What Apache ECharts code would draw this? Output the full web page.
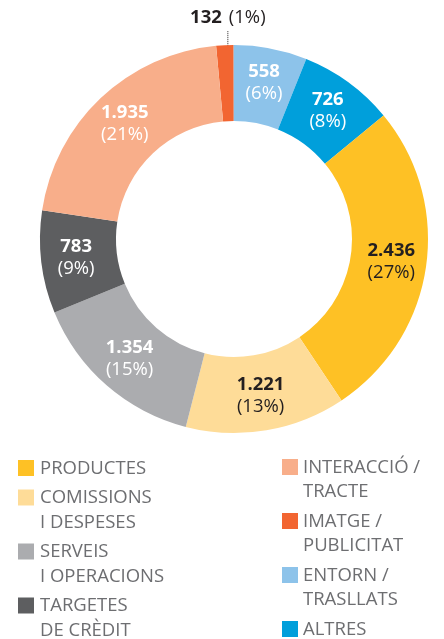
<!DOCTYPE html>
<html>
<head>
<meta charset="utf-8">
<script src="https://cdn.jsdelivr.net/npm/echarts@6/dist/echarts.min.js"></script>
<style>
  html, body { margin: 0; padding: 0; background: #ffffff; }
  #chart { width: 444px; height: 639px; }
</style>
</head>
<body>
<div id="chart"></div>
<script>
// Claims by category, in ring order (clockwise from the top)
const categories = [
  'IMATGE / PUBLICITAT',
  'ENTORN / TRASLLATS',
  'ALTRES',
  'PRODUCTES',
  'COMISSIONS I DESPESES',
  'SERVEIS I OPERACIONS',
  'TARGETES DE CRÈDIT',
  'INTERACCIÓ / TRACTE'
];
const values = [132, 558, 726, 2436, 1221, 1354, 783, 1935];
const sliceColors = ['#F26531', '#8DC3EA', '#009FDB', '#FEC125', '#FEDC98', '#ABACAF', '#5D5E60', '#F8AE8A'];
const labelColors = ['#231F20', '#FFFFFF', '#FFFFFF', '#231F20', '#231F20', '#FFFFFF', '#FFFFFF', '#FFFFFF'];

// Legend columns, with their line breaks
const legendLeft = ['PRODUCTES', 'COMISSIONS\nI DESPESES', 'SERVEIS\nI OPERACIONS', 'TARGETES\nDE CRÈDIT'];
const legendRight = ['INTERACCIÓ /\nTRACTE', 'IMATGE /\nPUBLICITAT', 'ENTORN /\nTRASLLATS', 'ALTRES'];

const FONT = '"Open Sans", "Noto Sans", sans-serif';

function fmtThousands(n) {
  return String(n).replace(/\B(?=(\d{3})+(?!\d))/g, '.');
}

const chart = echarts.init(document.getElementById('chart'), null, { renderer: 'canvas' });

const data = categories.map((name, i) => {
  const item = {
    name: name,
    value: values[i],
    itemStyle: { color: sliceColors[i] },
    label: { color: labelColors[i] }
  };
  if (i === 0) {
    // the thin slice gets its label above the ring with a dotted leader
    item.label.position = 'outside';
    item.labelLine = {
      show: true,
      length: 10,
      length2: 0,
      lineStyle: { type: 'dotted', color: '#231F20', width: 1 }
    };
  }
  return item;
});

// Legend drawn as two columns of swatches and labels
const legendGraphics = [];
function addLegendColumn(list, iconX, textX, startY) {
  const lineH = 24.5, gap = 5;
  let y = startY;
  list.forEach(label => {
    const key = label.replace('\n', ' ');
    const idx = categories.indexOf(key);
    legendGraphics.push({
      type: 'rect',
      shape: { x: iconX, y: y, width: 16, height: 16 },
      style: { fill: sliceColors[idx] },
      silent: true
    });
    legendGraphics.push({
      type: 'text',
      style: {
        x: textX, y: y - 4,
        text: label,
        font: '18.5px ' + FONT,
        fill: '#6D6E71',
        lineHeight: lineH,
        verticalAlign: 'top',
        align: 'left'
      },
      silent: true
    });
    const lines = label.split('\n').length;
    y += lines * lineH + gap;
  });
}
addLegendColumn(legendLeft, 18, 40, 460);
addLegendColumn(legendRight, 282, 303, 459);

chart.setOption({
  animation: false,
  backgroundColor: '#ffffff',
  graphic: legendGraphics,
  series: [{
    type: 'pie',
    center: [234, 239],
    radius: [118, 194],
    startAngle: 95.3,
    clockwise: true,
    avoidLabelOverlap: false,
    emphasis: { disabled: true },
    label: {
      show: true,
      position: 'inside',
      fontFamily: FONT,
      formatter: function (p) {
        const v = fmtThousands(p.value);
        const pct = Math.round(p.percent);
        if (p.dataIndex === 0) {
          return '{b|' + v + '}{s|(' + pct + '%)}';
        }
        return '{b|' + v + '}\n{p|(' + pct + '%)}';
      },
      rich: {
        b: { fontFamily: FONT, fontSize: 18.5, fontWeight: 'bold', lineHeight: 22 },
        p: { fontFamily: FONT, fontSize: 18.5, fontWeight: 'normal', lineHeight: 22 },
        s: { fontFamily: FONT, fontSize: 18.5, fontWeight: 'normal', lineHeight: 22, padding: [0, 0, 0, 7] }
      }
    },
    labelLine: { show: false },
    labelLayout: function (params) {
      if (params.dataIndex !== 0 || !params.labelLinePoints) return {};
      const start = params.labelLinePoints[0];
      const x = start[0] + 3;
      return {
        x: x,
        y: start[1] - 27,
        align: 'center',
        verticalAlign: 'middle',
        labelLinePoints: [[x, start[1] + 9], [x, start[1] - 5], [x, start[1] - 14]]
      };
    },
    data: data
  }]
});
</script>
</body>
</html>
